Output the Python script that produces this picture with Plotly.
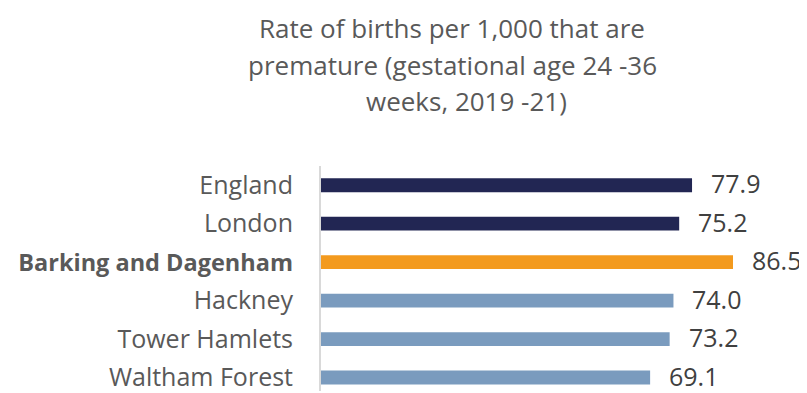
import plotly.graph_objects as go

categories = ["England", "London", "Barking and Dagenham", "Hackney", "Tower Hamlets", "Waltham Forest"]
values = [77.9, 75.2, 86.5, 74.0, 73.2, 69.1]
colors = ["#222653", "#222653", "#F39A1E", "#7A9BBE", "#7A9BBE", "#7A9BBE"]
tick_text = ["England", "London", "<span style='font-size:23.5px'><b>Barking and Dagenham</b></span>",
             "Hackney", "Tower Hamlets", "Waltham Forest"]
title_lines = ["Rate of births per 1,000 that are", "premature (gestational age 24 -36", "weeks, 2019 -21)"]

# plot bottom-to-top so England is at the top
cats_r = categories[::-1]
vals_r = values[::-1]
cols_r = colors[::-1]
ticks_r = tick_text[::-1]

FONT = "Open Sans"
OFF = 8  # page body margin

fig = go.Figure(go.Bar(
    x=vals_r, y=cats_r, orientation="h",
    marker=dict(color=cols_r, line=dict(width=0)),
    width=0.36,
))

annotations = []
for c, v in zip(cats_r, vals_r):
    annotations.append(dict(
        x=v, y=c, xref="x", yref="y", text=f"{v:.1f}", showarrow=False,
        xanchor="left", yanchor="middle", xshift=17, yshift=2,
        font=dict(family=FONT, size=25, color="#404040"),
    ))

W, H = 807 - OFF, 393 - OFF
T = round(165.6 - OFF)
B = 0
L = 321 - OFF
R = 0
ph = H - T - B
pw = W - L - R
title_pos = [(452, 27), (452, 64), (466, 100)]
for line, (xc, yc) in zip(title_lines, title_pos):
    annotations.append(dict(
        x=(xc - OFF - L) / pw, y=(H - B - (yc - OFF)) / ph, xref="paper", yref="paper",
        text=line, showarrow=False, xanchor="center", yanchor="middle",
        font=dict(family=FONT, size=26, color="#595959"),
    ))

fig.update_layout(
    width=W, height=H,
    margin=dict(l=L, r=R, t=T, b=B, pad=0),
    paper_bgcolor="white", plot_bgcolor="white",
    showlegend=False,
    annotations=annotations,
    xaxis=dict(range=[0, pw / 4.763], visible=False, showgrid=False, zeroline=False),
    yaxis=dict(
        type="category", categoryorder="array", categoryarray=cats_r,
        tickmode="array", tickvals=cats_r, ticktext=ticks_r,
        range=[5.5 - ph / 38.8, 5.5],
        showgrid=False, zeroline=False,
        showline=True, linecolor="#D9D9D9", linewidth=2,
        ticks="", ticklabelstandoff=21,
        tickfont=dict(family=FONT, size=25, color="#595959"),
    ),
)

fig.write_html("out.html")
